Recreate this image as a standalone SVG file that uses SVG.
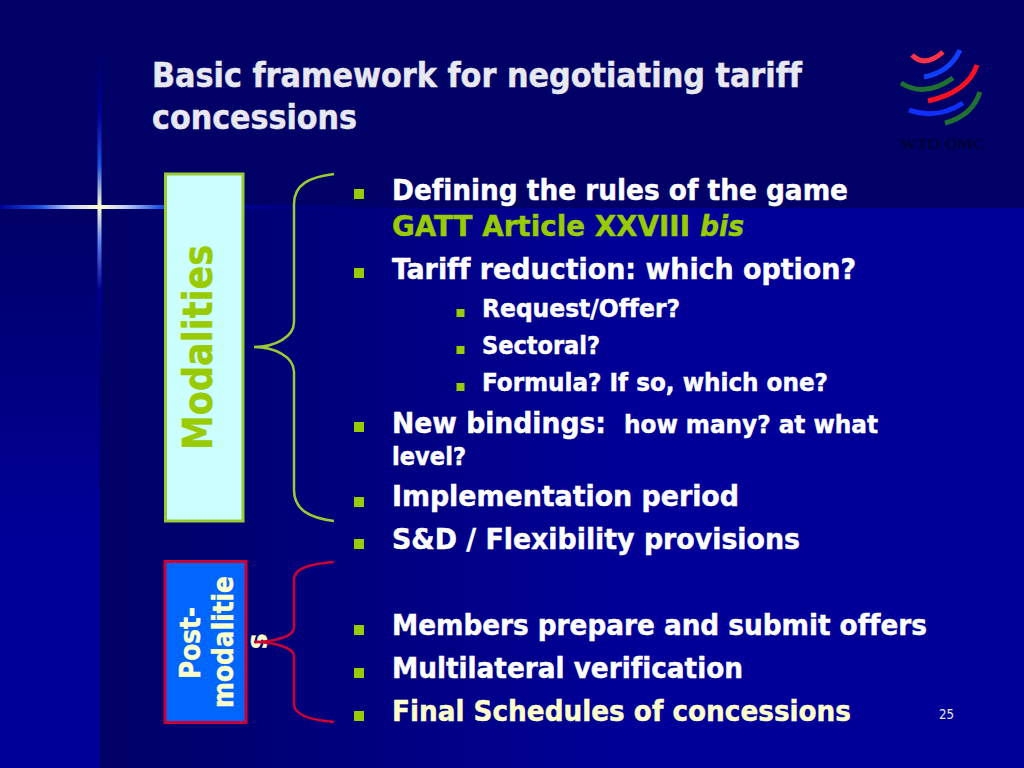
<svg xmlns="http://www.w3.org/2000/svg" width="1024" height="768" viewBox="0 0 1024 768">
<style>
text{font-family:"DejaVu Sans Condensed","DejaVu Sans","Noto Sans",sans-serif;font-weight:700;font-stretch:condensed;font-variant-ligatures:none;fill:#fff;stroke:#fff;stroke-width:.45px}
.t{font-size:33px;fill:#e8e8f0;stroke:#e8e8f0}
.b{font-size:29px}
.s{font-size:25px}
.g{fill:#99cc00;stroke:#99cc00}
.c{fill:#ffffcc;stroke:#ffffcc}
.bu{fill:#99cc00}
.gb{fill:none;stroke:#99cc33;stroke-width:2.5}
.rb{fill:none;stroke:#cc0033;stroke-width:2.5}
.lg{fill:none;stroke-width:5;stroke-linecap:butt}
</style>
<defs>
<linearGradient id="bl" x1="0" y1="208" x2="0" y2="540" gradientUnits="userSpaceOnUse"><stop offset="0" stop-color="#000066"/><stop offset="1" stop-color="#000099"/></linearGradient>
<linearGradient id="br" x1="100" y1="0" x2="650" y2="0" gradientUnits="userSpaceOnUse"><stop offset="0" stop-color="#000066"/><stop offset="1" stop-color="#000099"/></linearGradient>
<linearGradient id="h" x1="0" y1="0" x2="400" y2="0" gradientUnits="userSpaceOnUse"><stop offset="0" stop-color="#000099"/><stop offset="0.1" stop-color="#1a50e0"/><stop offset="0.175" stop-color="#c8d0f0"/><stop offset="0.2475" stop-color="#ffffd0"/><stop offset="0.31" stop-color="#c8d0f0"/><stop offset="0.4" stop-color="#1a50e0"/><stop offset="0.5" stop-color="#000099"/><stop offset="1" stop-color="#000099" stop-opacity="0"/></linearGradient>
<linearGradient id="v" x1="0" y1="50" x2="0" y2="370" gradientUnits="userSpaceOnUse"><stop offset="0" stop-color="#000099" stop-opacity="0"/><stop offset="0.2" stop-color="#000099"/><stop offset="0.36" stop-color="#1a50e0"/><stop offset="0.49" stop-color="#ffffd0"/><stop offset="0.6" stop-color="#5a80f0"/><stop offset="0.75" stop-color="#000099"/><stop offset="1" stop-color="#000099" stop-opacity="0"/></linearGradient>
</defs>
<g id="background">
<rect width="1024" height="768" fill="#000066"/>
<rect x="0" y="208" width="1024" height="560" fill="#000099"/>
<rect x="0" y="208" width="100" height="560" fill="url(#bl)"/>
<rect x="100" y="208" width="550" height="560" fill="url(#br)"/>
<rect x="0" y="205" width="400" height="4" fill="url(#h)"/>
<rect x="97.500" y="50" width="4" height="320" fill="url(#v)"/>
</g>
<g id="logo">
<path class="lg" stroke="#ff3344" d="M912,55Q925,68 943,52"/>
<path class="lg" stroke="#1040ff" d="M924,77Q950,72 960,50"/>
<path class="lg" stroke="#207030" d="M901,83Q925,98 953,78"/>
<path class="lg" stroke="#ff1020" d="M928,101Q968,92 977,65"/>
<path class="lg" stroke="#1030ff" d="M909,110Q937,120 963,103"/>
<path class="lg" stroke="#207030" d="M945,123Q972,116 980,92"/>
<text x="900" y="149" style="font-family:'Liberation Serif',serif;font-size:15.500px;fill:#000033;stroke:none" textLength="85" lengthAdjust="spacingAndGlyphs">WTO OMC</text>
</g>
<g id="title">
<text class="t" x="152" y="87" textLength="650" lengthAdjust="spacingAndGlyphs">Basic framework for negotiating tariff</text>
<text class="t" x="152" y="129" textLength="205" lengthAdjust="spacingAndGlyphs">concessions</text>
</g>
<g id="modalities">
<rect x="165.500" y="174" width="77.500" height="347" fill="#ccffff" stroke="#99cc33" stroke-width="3"/>
<text class="g" transform="translate(212,450) rotate(-90)" style="font-size:41px" textLength="205" lengthAdjust="spacingAndGlyphs">Modalities</text>
</g>
<g id="post-modalities">
<rect x="165" y="561.500" width="81" height="161" fill="#0066ff" stroke="#cc0033" stroke-width="3"/>
<text class="c" transform="translate(200,679) rotate(-90)" style="font-size:29px" textLength="72" lengthAdjust="spacingAndGlyphs">Post-</text>
<text class="c" transform="translate(233,708) rotate(-90)" style="font-size:29px" textLength="132" lengthAdjust="spacingAndGlyphs">modalitie</text>
<text class="c" transform="translate(267,649) rotate(-90)" style="font-size:29px">s</text>
</g>
<g id="connectors">
<path class="gb" d="M334,174C310,177 294,184 294,204V322C294,337 275,347 254,347C275,347 294,357 294,372V490C294,510 310,518 334,521"/>
<path class="rb" d="M334,562C310,564 294,568 294,580V628C294,636 275,642 254,642C275,642 294,648 294,656V704C294,715 310,720 334,722"/>
</g>
<g id="bullets" class="bu">
<rect x="354" y="189" width="10" height="10"/>
<rect x="354" y="268" width="10" height="10"/>
<rect x="456.500" y="309" width="8" height="8"/>
<rect x="456.500" y="346" width="8" height="8"/>
<rect x="456.500" y="383" width="8" height="8"/>
<rect x="354" y="422" width="10" height="10"/>
<rect x="354" y="497" width="10" height="10"/>
<rect x="354" y="539" width="10" height="10"/>
<rect x="354" y="625" width="10" height="10"/>
<rect x="354" y="668" width="10" height="10"/>
<rect x="354" y="711" width="10" height="10"/>
</g>
<g id="body">
<text class="b" x="392" y="200" textLength="456" lengthAdjust="spacingAndGlyphs">Defining the rules of the game</text>
<text class="b g" x="392" y="236" textLength="298" lengthAdjust="spacingAndGlyphs">GATT Article XXVIII</text>
<text class="b g" x="700" y="236" font-style="italic" textLength="44" lengthAdjust="spacingAndGlyphs">bis</text>
<text class="b" x="392" y="279" textLength="464" lengthAdjust="spacingAndGlyphs">Tariff reduction: which option?</text>
<text class="s" x="482" y="317" textLength="198" lengthAdjust="spacingAndGlyphs">Request/Offer?</text>
<text class="s" x="482" y="354" textLength="118" lengthAdjust="spacingAndGlyphs">Sectoral?</text>
<text class="s" x="482" y="391" textLength="346" lengthAdjust="spacingAndGlyphs">Formula? If so, which one?</text>
<text class="b" x="392" y="433" textLength="214" lengthAdjust="spacingAndGlyphs">New bindings:</text>
<text class="s" x="624" y="433" textLength="254" lengthAdjust="spacingAndGlyphs">how many? at what</text>
<text class="s" x="392" y="465" textLength="74" lengthAdjust="spacingAndGlyphs">level?</text>
<text class="b" x="392" y="506" textLength="347" lengthAdjust="spacingAndGlyphs">Implementation period</text>
<text class="b" x="392" y="549" textLength="408" lengthAdjust="spacingAndGlyphs">S&amp;D / Flexibility provisions</text>
<text class="b" x="392" y="635" textLength="535" lengthAdjust="spacingAndGlyphs">Members prepare and submit offers</text>
<text class="b" x="392" y="678" textLength="351" lengthAdjust="spacingAndGlyphs">Multilateral verification</text>
<text class="b c" x="392" y="721" textLength="459" lengthAdjust="spacingAndGlyphs">Final Schedules of concessions</text>
<text x="939" y="719" style="font-size:14px;font-weight:400;fill:#e8e8f0;stroke:none" textLength="15" lengthAdjust="spacingAndGlyphs">25</text>
</g>
</svg>
